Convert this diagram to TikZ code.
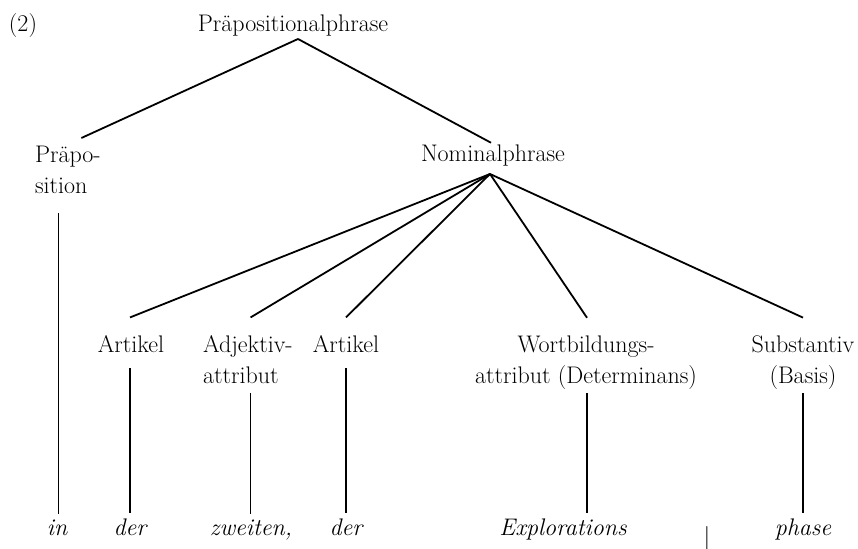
\documentclass[tikz,border=0pt]{standalone}
\usepackage{fontspec}
\begin{document}
\begin{tikzpicture}[x=1pt,y=1pt,
  lbl/.style={font=\fontsize{24}{31}\selectfont, inner sep=0pt, outer sep=0pt, anchor=base},
  word/.style={lbl, font=\fontsize{24}{31}\selectfont\itshape},
  edge/.style={line width=1.8pt},
  stem/.style={line width=1.6pt},
  thinstem/.style={line width=1.1pt}]
\useasboundingbox (0,0) rectangle (858,-548);
% labels
\node[lbl, anchor=base west] (num) at (9,-32) {(2)};
\node[lbl] (pp) at (293,-32) {Präpositionalphrase};
\node[lbl, anchor=base west, align=left] (prep) at (35,-193) {Präpo-\\sition};
\node[lbl] (np) at (493,-161) {Nominalphrase};
\node[lbl] (art1) at (131,-352) {Artikel};
\node[lbl, anchor=base west, align=left] (adj) at (203,-383) {Adjektiv-\\attribut};
\node[lbl] (art2) at (346,-352) {Artikel};
\node[lbl, align=center] (wb) at (586,-383) {Wortbildungs-\\attribut (Determinans)};
\node[lbl, align=center] (sub) at (803,-383) {Substantiv\\(Basis)};
% words
\node[word] (w1) at (57,-535) {in};
\node[word] (w2) at (130,-535) {der};
\node[word] (w3) at (251,-535) {zweiten,};
\node[word] (w4) at (346,-535) {der};
\node[word] (w5) at (563,-535) {Explorations};
\node[lbl] (bar) at (707,-544) {|};
\node[word] (w6) at (803,-535) {phase};
% anchor points
\coordinate (pptop) at ([xshift=5pt,yshift=-2.3pt]pp.south);
\coordinate (npbot) at ([xshift=-3pt,yshift=-8.3pt]np.south);
\coordinate (s0) at ([xshift=-9.5pt,yshift=-20pt]prep.south);
\coordinate (s1) at ([xshift=-1pt,yshift=-16pt]art1.south);
\coordinate (s2) at ([xshift=2.7pt,yshift=-10pt]adj.south);
\coordinate (s3) at ([yshift=-16pt]art2.south);
\coordinate (s4) at ([xshift=1pt,yshift=-4pt]wb.south);
\coordinate (s5) at ([yshift=-4pt]sub.south);
\coordinate (t1) at ([yshift=5.3pt]w1.north);
\coordinate (t2) at ([yshift=5.3pt]w2.north);
\coordinate (t3) at ([yshift=5.3pt]w3.north);
\coordinate (t4) at ([yshift=5.3pt]w4.north);
\coordinate (t5) at ([yshift=5.3pt]w5.north);
\coordinate (t6) at ([yshift=5.3pt]w6.north);
% tree edges
\draw[edge] (pptop) -- ([xshift=13.5pt,yshift=7.6pt]prep.north);
\draw[edge] (pptop) -- ([xshift=-2pt,yshift=1.6pt]np.north);
\draw[edge] (npbot) -- ([xshift=-1pt,yshift=17.6pt]art1.north);
\draw[edge] (npbot) -- ([xshift=2.7pt,yshift=17.6pt]adj.north);
\draw[edge] (npbot) -- ([yshift=17.6pt]art2.north);
\draw[edge] (npbot) -- ([xshift=1pt,yshift=17.6pt]wb.north);
\draw[edge] (npbot) -- ([yshift=17.6pt]sub.north);
% stems
\draw[stem] (s0) -- (s0 |- t1);
\draw[stem] (s1) -- (s1 |- t2);
\draw[thinstem] (s2) -- (s2 |- t3);
\draw[stem] (s3) -- (s3 |- t4);
\draw[stem] (s4) -- (s4 |- t5);
\draw[stem] (s5) -- (s5 |- t6);
\end{tikzpicture}
\end{document}
